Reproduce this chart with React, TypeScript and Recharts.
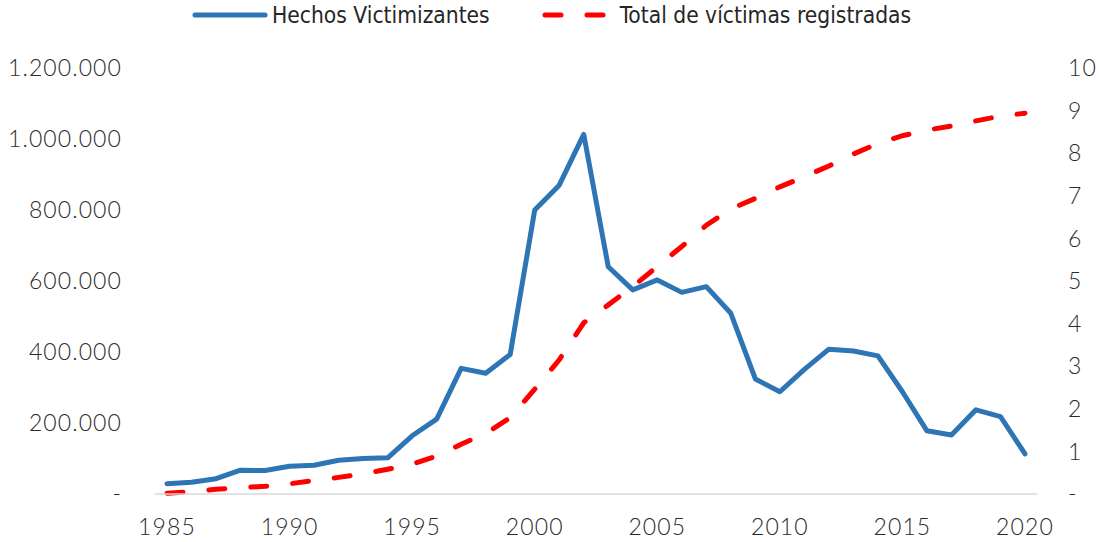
import React from 'react';
import { LineChart, Line, XAxis, YAxis, Legend } from 'recharts';

const years = [
  1985, 1986, 1987, 1988, 1989, 1990, 1991, 1992, 1993, 1994, 1995, 1996,
  1997, 1998, 1999, 2000, 2001, 2002, 2003, 2004, 2005, 2006, 2007, 2008,
  2009, 2010, 2011, 2012, 2013, 2014, 2015, 2016, 2017, 2018, 2019, 2020,
];

// Hechos victimizantes per year (left axis)
const hechos = [
  29000, 33000, 43000, 67000, 66000, 78000, 81000, 95000, 100000, 102000,
  164000, 211000, 354000, 340000, 393000, 800000, 870000, 1013000, 640000,
  575000, 603000, 568000, 584000, 509000, 324000, 288000, 351000, 408000,
  403000, 389000, 288000, 178000, 166000, 237000, 218000, 113000,
];

// Total de víctimas registradas, millions (right axis)
const totalVictimas = [
  0.02, 0.05, 0.11, 0.15, 0.18, 0.24, 0.32, 0.39, 0.47, 0.58, 0.7, 0.89,
  1.17, 1.42, 1.79, 2.46, 3.15, 4.02, 4.44, 4.87, 5.34, 5.81, 6.31, 6.69,
  6.94, 7.21, 7.45, 7.7, 7.98, 8.23, 8.41, 8.54, 8.64, 8.76, 8.87, 8.94,
];

const leftTicks = [0, 200000, 400000, 600000, 800000, 1000000, 1200000];
const rightTicks = [0, 1, 2, 3, 4, 5, 6, 7, 8, 9, 10];

const seriesNames = ['Hechos Victimizantes', 'Total de víctimas registradas'];

const BLUE = '#2E75B6';
const RED = '#FF0000';
const TEXT = '#2b2b2b';
const FONT = "Lato, 'Open Sans', sans-serif";
const LEGEND_FONT = "'Liberation Sans Narrow', 'DejaVu Sans Condensed', 'Liberation Sans', sans-serif";

const tickStyle = {
  fill: TEXT,
  fontSize: 23,
  fontFamily: FONT,
  fontWeight: 300,
  letterSpacing: 1.1,
};

const data = years.map((y, i) => ({
  year: y,
  hechos: hechos[i],
  total: totalVictimas[i],
}));

const fmtLeft = (v: number) =>
  v === 0 ? '-' : String(v).replace(/\B(?=(\d{3})+(?!\d))/g, '.');
const fmtRight = (v: number) => (v === 0 ? '-' : String(v));

function ChartLegend() {
  return (
    <div
      style={{
        display: 'flex',
        alignItems: 'center',
        height: 30,
        fontFamily: LEGEND_FONT,
        fontSize: 22.6,
        color: '#262626',
        paddingLeft: 192,
      }}
    >
      <svg width={76} height={10} style={{ marginRight: 4 }}>
        <line x1={3} y1={5} x2={73} y2={5} stroke={BLUE} strokeWidth={5} strokeLinecap="round" />
      </svg>
      <span>{seriesNames[0]}</span>
      <svg width={69} height={10} style={{ marginLeft: 52, marginRight: 9 }}>
        <line
          x1={3}
          y1={5}
          x2={66}
          y2={5}
          stroke={RED}
          strokeWidth={5}
          strokeLinecap="round"
          strokeDasharray="16 26"
        />
      </svg>
      <span>{seriesNames[1]}</span>
    </div>
  );
}

export default function App() {
  return (
    <div style={{ position: 'absolute', left: 0, top: 0, background: '#fff' }}>
      <LineChart
        width={1099}
        height={542}
        data={data}
        margin={{ top: 38, right: 0, left: 0, bottom: 0 }}
      >
        <Legend
          verticalAlign="top"
          align="left"
          content={() => <ChartLegend />}
          wrapperStyle={{ top: 0, left: 0, width: 1099, height: 30 }}
        />
        <XAxis
          dataKey="year"
          interval={4}
          padding={{ left: 12, right: 12 }}
          height={48}
          tickLine={false}
          tickSize={0}
          tickMargin={25}
          axisLine={{ stroke: '#d9d9d9', strokeWidth: 1.5 }}
          tick={tickStyle}
        />
        <YAxis
          yAxisId="left"
          width={155}
          domain={[0, 1200000]}
          ticks={leftTicks}
          tickFormatter={fmtLeft}
          axisLine={false}
          tickLine={false}
          tickSize={0}
          tickMargin={33}
          tick={tickStyle}
        />
        <YAxis
          yAxisId="right"
          orientation="right"
          width={62}
          domain={[0, 10]}
          ticks={rightTicks}
          tickFormatter={fmtRight}
          axisLine={false}
          tickLine={false}
          tickSize={0}
          tickMargin={31}
          tick={tickStyle}
        />
        <Line
          yAxisId="left"
          type="linear"
          dataKey="hechos"
          name={seriesNames[0]}
          stroke={BLUE}
          strokeWidth={5}
          strokeLinejoin="round"
          strokeLinecap="round"
          dot={false}
          activeDot={false}
          isAnimationActive={false}
        />
        <Line
          yAxisId="right"
          type="linear"
          dataKey="total"
          name={seriesNames[1]}
          stroke={RED}
          strokeWidth={5}
          strokeDasharray="16 26"
          strokeLinecap="round"
          dot={false}
          activeDot={false}
          isAnimationActive={false}
        />
      </LineChart>
    </div>
  );
}
